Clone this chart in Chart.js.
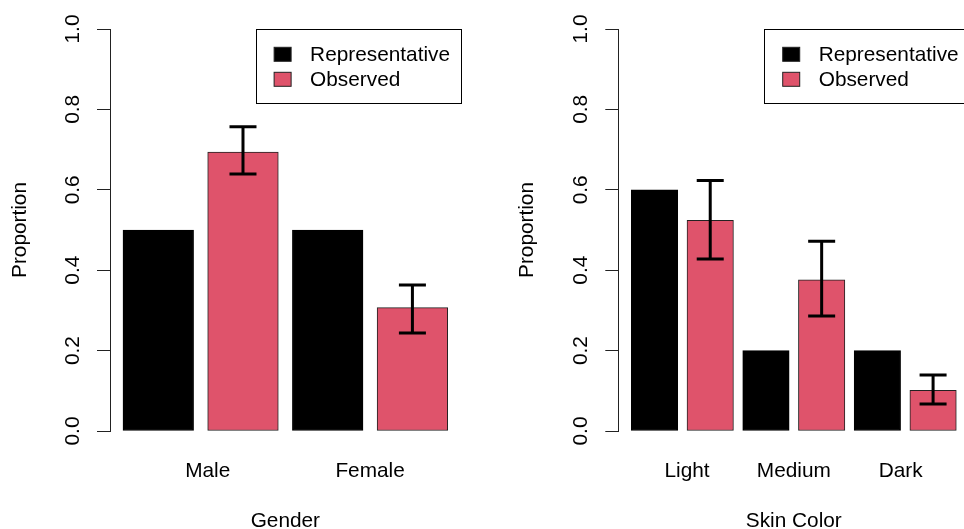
<!DOCTYPE html>
<html lang="en">
<head>
<meta charset="UTF-8" />
<title>Representative vs Observed</title>
<script src="https://cdn.jsdelivr.net/npm/chart.js"></script>
<style>
  body {
    margin: 0;
    background: #fff;
    overflow: hidden;
    width: 964px;
    height: 529px;
    position: relative;
  }
  .panel { position: absolute; top: 0; }
  #left { left: 0; }
  #right { left: 482px; }
</style>
</head>
<body>
<div class="panel" id="left"><canvas id="genderChart" width="482" height="560"></canvas></div>
<div class="panel" id="right"><canvas id="skinChart" width="500" height="560"></canvas></div>
<script>
// data
const seriesNames = ["Representative", "Observed"];
const seriesColors = ["#000000", "#DF536B"];

const genderCats = ["Male", "Female"];
const genderRep = [0.5, 0.5];
const genderObs = [0.694, 0.307];
const genderLow = [0.639, 0.244];
const genderHigh = [0.757, 0.363];

const skinCats = ["Light", "Medium", "Dark"];
const skinRep = [0.6, 0.2, 0.2];
const skinObs = [0.524, 0.376, 0.101];
const skinLow = [0.428, 0.286, 0.067];
const skinHigh = [0.623, 0.472, 0.139];

const yTicks = [0, 0.2, 0.4, 0.6, 0.8, 1.0];

const FONT = '"Liberation Sans", Arial, Helvetica, sans-serif';
const FSIZE = 20.8;
Chart.defaults.font.family = FONT;
Chart.defaults.font.size = FSIZE;
Chart.defaults.color = "#000";

// R style barplot: bar width 1, space 0.2, groups side by side
const groupCenter = i => 1.3 + 2.4 * i;
// the original put its category names at 1.4, 3.7, 6.0 (not quite centred)
const labelAt = i => 1.4 + 2.3 * i;

const errBars = {
  id: "errBars",
  afterDatasetsDraw(chart, args, opts) {
    const ctx = chart.ctx;
    const ys = chart.scales.y;
    const meta = chart.getDatasetMeta(1);
    ctx.save();
    ctx.strokeStyle = "#000";
    ctx.lineWidth = 3;
    meta.data.forEach((bar, i) => {
      const x = bar.x;
      const yl = ys.getPixelForValue(opts.low[i]);
      const yh = ys.getPixelForValue(opts.high[i]);
      ctx.beginPath();
      ctx.moveTo(x, yl); ctx.lineTo(x, yh);
      ctx.moveTo(x - 13.5, yl); ctx.lineTo(x + 13.5, yl);
      ctx.moveTo(x - 13.5, yh); ctx.lineTo(x + 13.5, yh);
      ctx.stroke();
    });
    ctx.restore();
  }
};

// rotated y tick labels + boxed legend, like base R
const rDecor = {
  id: "rDecor",
  afterDraw(chart) {
    const ctx = chart.ctx;
    const ys = chart.scales.y;
    const area = chart.chartArea;
    ctx.save();
    ctx.font = FSIZE + "px " + FONT;
    ctx.fillStyle = "#000";
    ctx.textAlign = "center";
    ctx.textBaseline = "middle";
    yTicks.forEach(v => {
      ctx.save();
      ctx.translate(area.left - 37.2, ys.getPixelForValue(v));
      ctx.rotate(-Math.PI / 2);
      ctx.fillText(v.toFixed(1), 0, 0);
      ctx.restore();
    });

    // legend
    const ds = chart.data.datasets;
    const maxW = Math.max(...ds.map(d => ctx.measureText(d.label).width));
    const w = 54.3 + maxW + 10.7;
    const h = 74;
    const bx = area.right - w;
    const by = area.top;
    ctx.lineWidth = 1;
    ctx.strokeStyle = "#000";
    ctx.strokeRect(Math.round(bx) + 0.5, Math.round(by) + 0.5, Math.round(w), h);
    ctx.textAlign = "left";
    ds.forEach((d, i) => {
      const sy = by + 18.3 + 25 * i;
      ctx.fillStyle = d.backgroundColor;
      ctx.fillRect(bx + 18.3, sy, 17, 14);
      ctx.strokeStyle = "#222";
      ctx.strokeRect(bx + 18.3, sy, 17, 14);
      ctx.fillStyle = "#000";
      ctx.fillText(d.label, bx + 54.3, sy + 7.5);
    });
    ctx.restore();
  }
};

function makeChart(id, cats, rep, obs, low, high, xTitle, axisW, padRight, titlePad) {
  const n = cats.length;
  const lo = 0.2, hi = 2.4 * n;
  const ext = 0.04 * (hi - lo);
  const toPts = vals => vals.map((v, i) => ({ x: groupCenter(i), y: v }));

  return new Chart(document.getElementById(id), {
    type: "bar",
    data: {
      datasets: [rep, obs].map((vals, k) => ({
        label: seriesNames[k],
        data: toPts(vals),
        backgroundColor: seriesColors[k],
        borderColor: k === 0 ? "#000" : "#222",
        borderWidth: 1,
        borderSkipped: false,
        barThickness: "flex",
        categoryPercentage: 1,
        barPercentage: 1 / 1.2
      }))
    },
    options: {
      responsive: false,
      animation: false,
      events: [],
      layout: { padding: { left: 0, right: padRight, top: 29, bottom: 26.7 } },
      plugins: {
        legend: { display: false },
        tooltip: { enabled: false },
        errBars: { low, high }
      },
      scales: {
        x: {
          type: "linear",
          offset: false,
          bounds: "data",
          min: lo - ext,
          max: hi + ext,
          afterBuildTicks: s => { s.ticks = cats.map((c, i) => ({ value: labelAt(i) })); },
          afterFit: s => { s.height = 102.3; },
          ticks: {
            autoSkip: false,
            maxRotation: 0,
            padding: 28,
            color: "#000",
            callback: (v, i) => cats[i]
          },
          grid: { display: false, drawTicks: false },
          border: { display: false },
          title: { display: true, text: xTitle, color: "#000", padding: { top: 0, bottom: 0 } }
        },
        y: {
          min: 0,
          max: 1,
          bounds: "data",
          afterBuildTicks: s => { s.ticks = yTicks.map(v => ({ value: v })); },
          afterFit: s => { s.width = axisW; },
          ticks: { display: false },
          grid: { drawOnChartArea: false, drawTicks: true, tickLength: 13, color: "#222", tickWidth: 1 },
          border: { display: true, color: "#222", width: 1 },
          title: { display: true, text: "Proportion", color: "#000", padding: { top: titlePad, bottom: 0 } }
        }
      }
    },
    plugins: [errBars, rDecor]
  });
}

makeChart("genderChart", genderCats, genderRep, genderObs, genderLow, genderHigh, "Gender", 110, 21.3, 7.3);
makeChart("skinChart", skinCats, skinRep, skinObs, skinLow, skinHigh, "Skin Color", 136.3, 12.7, 32.6);
</script>
</body>
</html>
